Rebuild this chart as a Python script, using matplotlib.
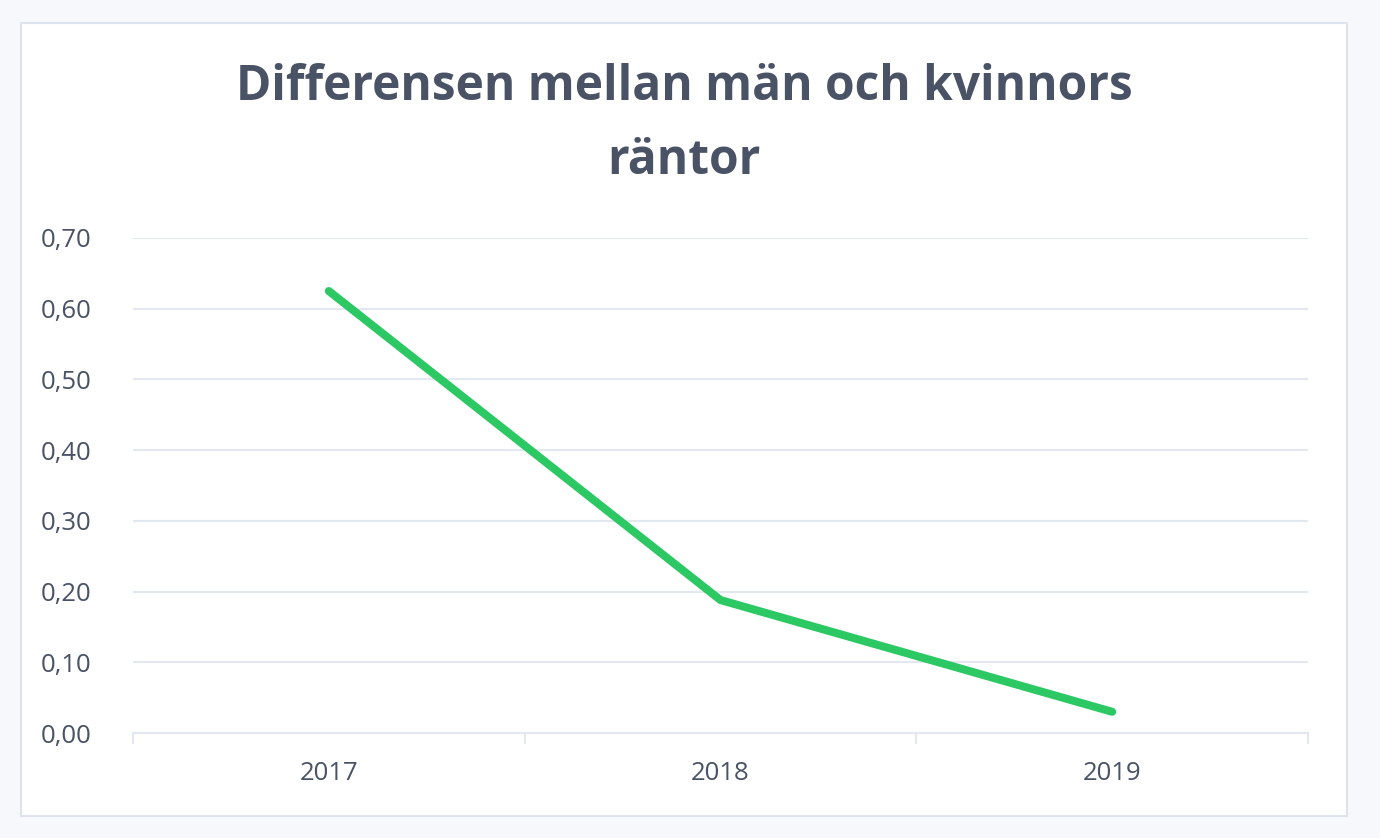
import matplotlib.pyplot as plt
from matplotlib.patches import Rectangle

plt.rcParams['font.family'] = ['Open Sans', 'DejaVu Sans']

years = ['2017', '2018', '2019']
diff = [0.625, 0.188, 0.030]
yticks = [0.0, 0.1, 0.2, 0.3, 0.4, 0.5, 0.6, 0.7]

text_col = '#4a5366'
grid_col = '#e3e7ef'

fig = plt.figure(figsize=(13.8, 8.38), dpi=100)
fig.patch.set_facecolor('#f7f8fc')
fig.patches.append(Rectangle((21 / 1380, 1 - 816 / 838), 1326 / 1380, 793 / 838,
                             transform=fig.transFigure, facecolor='white',
                             edgecolor='#dfe3ec', linewidth=1.5, zorder=-1))

ax = fig.add_axes([133 / 1380, 1 - 733 / 838, 1175 / 1380, 495 / 838])
ax.set_zorder(2)
ax.set_facecolor('none')
x = list(range(len(years)))
ax.plot(x, diff, color='#2bc864', linewidth=5.8, solid_capstyle='round', zorder=3)

ax.set_xlim(-0.5, len(years) - 0.5)
ax.set_ylim(0, 0.7)
ax.set_yticks(yticks)
ax.set_yticklabels([('%.2f' % v).replace('.', ',') for v in yticks])
ax.grid(axis='y', color=grid_col, linewidth=1.5)
ax.set_axisbelow(True)

ax.set_xticks(x)
ax.set_xticklabels(years)
ax.set_xticks([i - 0.5 for i in range(len(years) + 1)], minor=True)
ax.tick_params(axis='x', which='major', length=0, pad=20, labelsize=18.5, labelcolor=text_col)
ax.tick_params(axis='x', which='minor', length=8, width=1.5, color=grid_col)
ax.tick_params(axis='y', length=0, pad=30, labelsize=18.5, labelcolor=text_col)

for s in ['top', 'right', 'left']:
    ax.spines[s].set_visible(False)
ax.spines['bottom'].set_color(grid_col)
ax.spines['bottom'].set_linewidth(1.5)

fig.text(684 / 1380, 1 - 88 / 838, 'Differensen mellan män och kvinnors', ha='center', va='center',
         fontsize=34.5, fontweight='bold', color=text_col, zorder=3)
fig.text(684 / 1380, 1 - 162 / 838, 'räntor', ha='center', va='center',
         fontsize=34.5, fontweight='bold', color=text_col, zorder=3)

fig.savefig('out.png', dpi=100, facecolor=fig.get_facecolor())
